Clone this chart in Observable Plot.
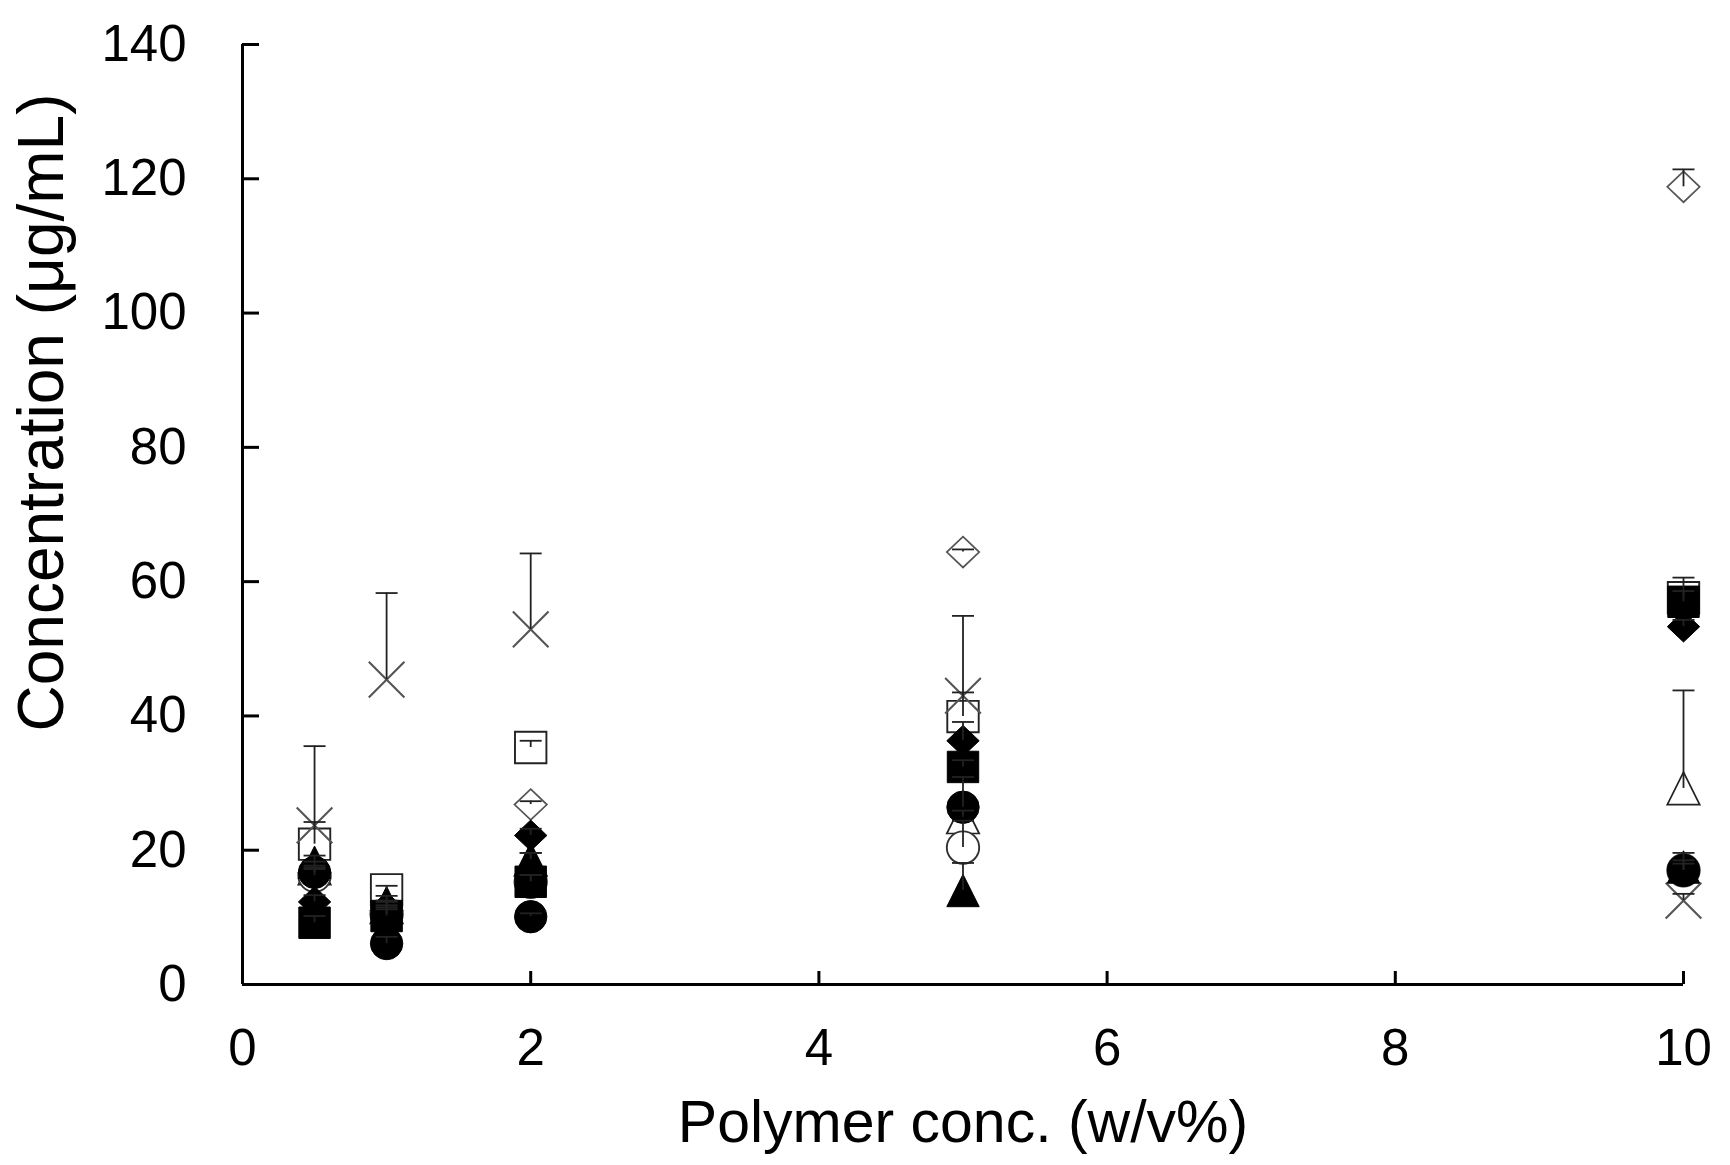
<!DOCTYPE html>
<html>
<head>
<meta charset="utf-8">
<script src="https://cdn.jsdelivr.net/npm/d3@7"></script>
<script src="https://cdn.jsdelivr.net/npm/@observablehq/plot@0.6"></script>
<style>
  html, body { margin: 0; padding: 0; background: #fff; }
  #chart svg { display: block; }
</style>
</head>
<body>
<div id="chart"></div>
<script>
// ---- data ----
const polymerConc = [0.5, 1, 2, 5, 10];

const filledDiamond    = [12.3, 11.5, 22.2, 36.3, 53.3];
const filledDiamondErr = [1.0, 0.8, 1.0, 2.8, 1.0];
const filledSquare     = [9.2, 10.2, 15.3, 32.4, 57.0];
const filledSquareErr  = [1.0, 1.0, 1.0, 1.0, 3.6];
const filledTriangle    = [18.2, 12.2, 18.6, 14.0, 17.5];
const filledTriangleErr = [1.0, 1.0, 1.0, 4.1, 1.0];
const filledCircle     = [16.7, 6.1, 10.1, 26.4, 17.0];
const filledCircleErr  = [1.0, 1.0, 0.5, 4.5, 2.6];
const openDiamond      = [16.6, 11.0, 26.8, 64.4, 118.8];
const openDiamondErr   = [0.8, 0.8, 0.5, 0.4, 2.6];
const openSquare       = [20.9, 14.1, 35.3, 39.9, 57.6];
const openSquareErr    = [14.6, 0.6, 1.0, 15.0, 1.0];
const openTriangle     = [17.3, 11.5, 18.6, 24.9, 29.2];
const openTriangleErr  = [1.0, 1.0, 1.0, 1.0, 14.6];
const openCircle       = [16.2, 10.5, 15.3, 20.4, 17.0];
const openCircleErr    = [1.0, 1.0, 1.0, 4.0, 1.0];
const cross            = [23.7, 45.4, 52.9, 43.0, 12.5];
const crossErr         = [0.5, 12.9, 11.3, 0.5, 1.0];

const xTicks = [0, 2, 4, 6, 8, 10];
const yTicks = [0, 20, 40, 60, 80, 100, 120, 140];
const xDomain = [0, 10];
const yDomain = [0, 140];
const xLabel = "Polymer conc. (w/v%)";
const yLabel = "Concentration (μg/mL)";

// ---- symbols ----
const R = s => Math.sqrt(s / Math.PI);
const symSquare = {draw(c, s) { const r = R(s) * 0.97; c.rect(-r, -r, 2 * r, 2 * r); }};
const symCircle = {draw(c, s) { const r = R(s); c.moveTo(r, 0); c.arc(0, 0, r, 0, 2 * Math.PI); c.closePath(); }};
const symDiamond = {draw(c, s) { const r = R(s); const h = r * 0.95; c.moveTo(0, -h); c.lineTo(r, 0); c.lineTo(0, h); c.lineTo(-r, 0); c.closePath(); }};
const symTriangle = {draw(c, s) { const r = R(s); c.moveTo(0, -r); c.lineTo(r, r); c.lineTo(-r, r); c.closePath(); }};
const symTimes = {draw(c, s) { const r = R(s) * 1.1; c.moveTo(-r, -r); c.lineTo(r, r); c.moveTo(r, -r); c.lineTo(-r, r); }};
const symCap = {draw(c, s) { const r = R(s); c.moveTo(-r, 0); c.lineTo(r, 0); }};

// drawing order: open markers first, then cross, then filled markers
const series = [
  {name: "openTriangle", values: openTriangle, err: openTriangleErr, symbol: symTriangle, fill: "white", stroke: "#222", sw: 1.7},
  {name: "openCircle", values: openCircle, err: openCircleErr, symbol: symCircle, fill: "white", stroke: "#333", sw: 1.9},
  {name: "openDiamond", values: openDiamond, err: openDiamondErr, symbol: symDiamond, fill: "white", stroke: "#555", sw: 1.7},
  {name: "openSquare", values: openSquare, err: openSquareErr, symbol: symSquare, fill: "white", stroke: "#222", sw: 1.9},
  {name: "cross", values: cross, err: crossErr, symbol: symTimes, fill: "none", stroke: "#555", sw: 2.1},
  {name: "filledTriangle", values: filledTriangle, err: filledTriangleErr, symbol: symTriangle, fill: "black", stroke: "black", sw: 1},
  {name: "filledCircle", values: filledCircle, err: filledCircleErr, symbol: symCircle, fill: "black", stroke: "black", sw: 1},
  {name: "filledDiamond", values: filledDiamond, err: filledDiamondErr, symbol: symDiamond, fill: "black", stroke: "black", sw: 1},
  {name: "filledSquare", values: filledSquare, err: filledSquareErr, symbol: symSquare, fill: "black", stroke: "black", sw: 1}
];

const rows = series.flatMap(s => polymerConc.map((x, i) => ({series: s.name, x, y: s.values[i], err: s.err[i]})));

const W = 1730, H = 1165;
const mL = 242, mR = 47, mT = 44, mB = 181;
const plotW = W - mL - mR, plotH = H - mT - mB;
const font = "'Liberation Sans', Arial, Helvetica, sans-serif";

const markerMarks = series.map(s => Plot.dot(rows.filter(d => d.series === s.name), {
  x: "x", y: "y", symbol: s.symbol, r: 16.2,
  fill: s.fill, stroke: s.stroke, strokeWidth: s.sw
}));

const chart = Plot.plot({
  width: W, height: H,
  marginLeft: mL, marginRight: mR, marginTop: mT, marginBottom: mB,
  style: {fontFamily: font, background: "white", color: "black"},
  x: {domain: xDomain},
  y: {domain: yDomain},
  marks: [
    // axis lines
    Plot.ruleX([xDomain[0]], {y1: yDomain[0], y2: yDomain[1], stroke: "black", strokeWidth: 3}),
    Plot.ruleY([yDomain[0]], {x1: xDomain[0], x2: xDomain[1], stroke: "black", strokeWidth: 3}),
    // inward ticks
    Plot.tickY(yTicks, {y: d => d, insetRight: plotW - 17, stroke: "black", strokeWidth: 3}),
    Plot.tickX(xTicks, {x: d => d, insetTop: plotH - 13, stroke: "black", strokeWidth: 3}),
    // tick labels
    Plot.axisY(yTicks, {tickSize: 0, tickPadding: 56, fontSize: 51, fill: "black", label: null, tickFormat: d => String(d)}),
    Plot.axisX(xTicks, {tickSize: 0, tickPadding: 44, fontSize: 51, fill: "black", label: null, tickFormat: d => String(d)}),
    // markers
    ...markerMarks,
    // error bars (upper)
    Plot.ruleX(rows, {x: "x", y1: "y", y2: d => d.y + d.err, stroke: "#222", strokeWidth: 1.8}),
    Plot.dot(rows, {x: "x", y: d => d.y + d.err, symbol: symCap, r: 11, stroke: "#222", strokeWidth: 1.8, fill: "none"}),
    // axis titles
    Plot.text([xLabel], {frameAnchor: "bottom", textAnchor: "middle", dx: 0, dy: 157, lineAnchor: "bottom", fontSize: 59, fill: "black"}),
    Plot.text([yLabel], {frameAnchor: "left", textAnchor: "middle", dx: 62 - mL, dy: 412 - (mT + plotH / 2), rotate: -90, lineAnchor: "bottom", fontSize: 64, fill: "black"})
  ]
});

document.getElementById("chart").appendChild(chart);
</script>
</body>
</html>
